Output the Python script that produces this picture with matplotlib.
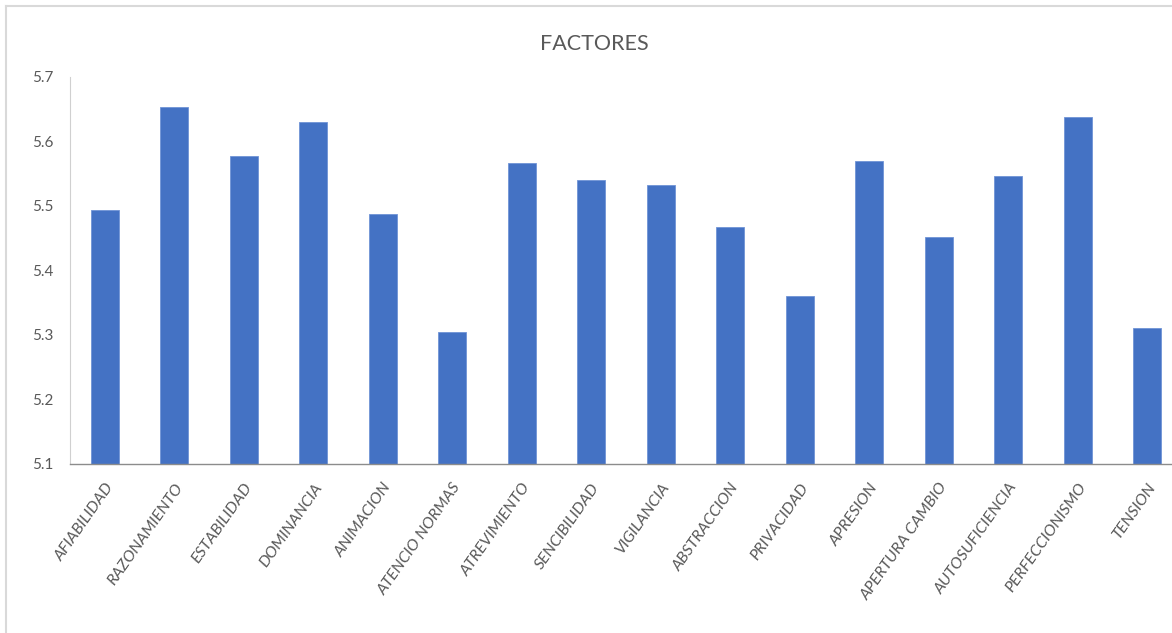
import matplotlib
matplotlib.use("Agg")
import matplotlib.pyplot as plt
from matplotlib.lines import Line2D

factores = [
    "AFIABILIDAD", "RAZONAMIENTO", "ESTABILIDAD", "DOMINANCIA", "ANIMACION",
    "ATENCIO NORMAS", "ATREVIMIENTO", "SENCIBILIDAD", "VIGILANCIA", "ABSTRACCION",
    "PRIVACIDAD", "APRESION", "APERTURA CAMBIO", "AUTOSUFICIENCIA",
    "PERFECCIONISMO", "TENSION",
]
valores = [
    5.494, 5.653, 5.577, 5.631, 5.488,
    5.305, 5.566, 5.541, 5.533, 5.467,
    5.361, 5.569, 5.452, 5.547,
    5.638, 5.311,
]
y_ticks = [5.1, 5.2, 5.3, 5.4, 5.5, 5.6, 5.7]

plt.rcParams["font.family"] = ["Lato", "DejaVu Sans"]
text_color = "#595959"

fig = plt.figure(figsize=(11.72, 6.33), dpi=100)
ax = fig.add_axes([70 / 1172, 1 - 464 / 633, 1112 / 1172, (464 - 77) / 633])

x = range(len(factores))
ax.bar(x, valores, width=0.4, color="#4472C4", edgecolor="#6F93D6", linewidth=0.6)
ax.set_xlim(-0.5, len(factores) - 0.5)
ax.set_ylim(5.1, 5.7)
ax.set_yticks(y_ticks)
ax.set_yticklabels([f"{t:.1f}" for t in y_ticks], fontsize=11, color=text_color)
ax.set_xticks(list(x))
ax.set_xticklabels(factores, rotation=55, ha="right", rotation_mode="anchor",
                   fontsize=11.5, color=text_color)
for lbl in ax.get_xticklabels():
    lbl.set_fontstyle("italic")
ax.tick_params(axis="both", length=0)
ax.tick_params(axis="x", pad=12)
ax.tick_params(axis="y", pad=12)

for side in ("top", "right"):
    ax.spines[side].set_visible(False)
ax.spines["left"].set_color("#D0D0D0")
ax.spines["left"].set_linewidth(0.8)
ax.spines["bottom"].set_color("#8C8C8C")
ax.spines["bottom"].set_linewidth(1.0)

fig.text(594 / 1172, 1 - 44 / 633, "FACTORES", ha="center", va="center",
         fontsize=15.5, color=text_color)

# chart area frame (top and left edges only)
frame = dict(color="#D9D9D9", linewidth=1.5, transform=fig.transFigure)
fig.add_artist(Line2D([6 / 1172, 1], [1 - 6 / 633, 1 - 6 / 633], **frame))
fig.add_artist(Line2D([6 / 1172, 6 / 1172], [0, 1 - 6 / 633], **frame))

fig.savefig("out.png", dpi=100)
